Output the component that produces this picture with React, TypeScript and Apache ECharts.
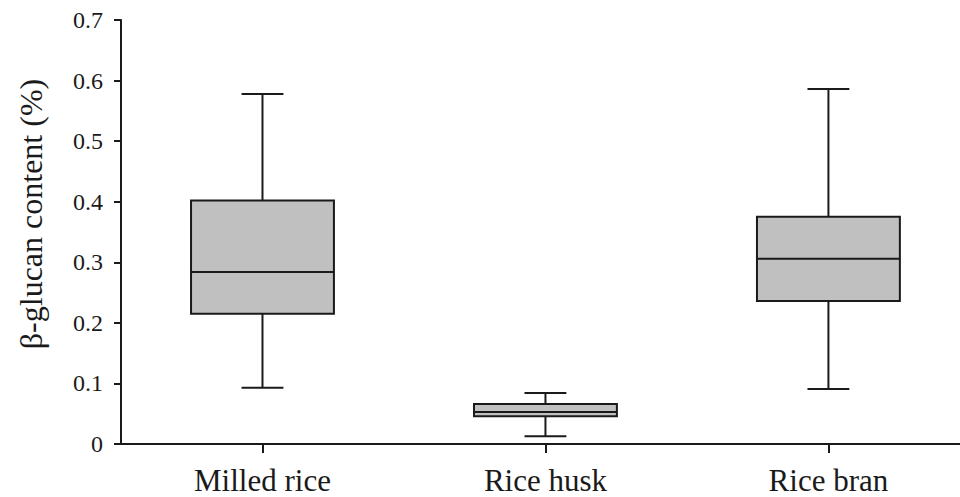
import React, { useEffect, useRef } from "react";
import * as echarts from "echarts";

const categories = ["Milled rice", "Rice husk", "Rice bran"];
const whiskerLow = [0.093, 0.013, 0.091];
const q1 = [0.215, 0.046, 0.236];
const median = [0.284, 0.053, 0.306];
const q3 = [0.402, 0.066, 0.375];
const whiskerHigh = [0.578, 0.084, 0.586];
const yTicks = [0, 0.1, 0.2, 0.3, 0.4, 0.5, 0.6, 0.7];
const catPositions = [0, 1, 2];

const FONT = "'Liberation Serif', 'Times New Roman', serif";
const INK = "#1a1a1a";

export default function App() {
  const ref = useRef<HTMLDivElement>(null);
  useEffect(() => {
    if (!ref.current) return;
    const chart = echarts.init(ref.current, null, { renderer: "svg" });
    const data = categories.map((_, i) => [catPositions[i], whiskerLow[i], q1[i], median[i], q3[i], whiskerHigh[i]]);
    chart.setOption({
      animation: false,
      backgroundColor: "#ffffff",
      grid: { left: 121, top: 20, right: 0, height: 424 },
      xAxis: {
        type: "value",
        min: -0.5,
        max: 2.465,
        axisLine: { show: true, onZero: false, lineStyle: { color: INK, width: 2 } },
        axisTick: { show: true, customValues: catPositions, length: 9, lineStyle: { color: INK, width: 2 } },
        axisLabel: {
          color: INK,
          fontFamily: FONT,
          fontSize: 31,
          margin: 21,
          customValues: catPositions,
          formatter: (v: number) => categories[Math.round(v)] ?? "",
        },
        splitLine: { show: false },
      },
      yAxis: {
        type: "value",
        min: 0,
        max: 0.7,
        interval: 0.1,
        axisLine: { show: true, onZero: false, lineStyle: { color: INK, width: 2 } },
        axisTick: { show: true, length: 7, lineStyle: { color: INK, width: 2 } },
        axisLabel: {
          color: INK,
          fontFamily: FONT,
          fontSize: 24,
          margin: 18,
          formatter: (v: number) => {
            const t = yTicks.find((x) => Math.abs(x - v) < 1e-9);
            return t === undefined ? "" : String(t);
          },
        },
        splitLine: { show: false },
      },
      graphic: [
        {
          type: "text",
          x: 31,
          y: 214,
          rotation: Math.PI / 2,
          style: {
            text: "β-glucan content (%)",
            fontFamily: FONT,
            fontSize: 32,
            fill: INK,
            align: "center",
            verticalAlign: "middle",
          },
        },
      ],
      series: [
        {
          type: "custom",
          data,
          encode: { x: 0, y: [1, 2, 3, 4, 5] },
          renderItem: (params: any, api: any) => {
            const idx = api.value(0);
            const band = api.coord([idx + 1, 0])[0] - api.coord([idx, 0])[0];
            const bw = band * 0.505;
            const cw = band * 0.148;
            const pLow = api.coord([idx, api.value(1)]);
            const pQ1 = api.coord([idx, api.value(2)]);
            const pMed = api.coord([idx, api.value(3)]);
            const pQ3 = api.coord([idx, api.value(4)]);
            const pHigh = api.coord([idx, api.value(5)]);
            const cx = pMed[0];
            const ls = { stroke: INK, lineWidth: 2 };
            return {
              type: "group",
              children: [
                { type: "line", shape: { x1: cx, y1: pQ3[1], x2: cx, y2: pHigh[1] }, style: ls },
                { type: "line", shape: { x1: cx, y1: pQ1[1], x2: cx, y2: pLow[1] }, style: ls },
                { type: "line", shape: { x1: cx - cw / 2, y1: pHigh[1], x2: cx + cw / 2, y2: pHigh[1] }, style: ls },
                { type: "line", shape: { x1: cx - cw / 2, y1: pLow[1], x2: cx + cw / 2, y2: pLow[1] }, style: ls },
                {
                  type: "rect",
                  shape: { x: cx - bw / 2, y: pQ3[1], width: bw, height: pQ1[1] - pQ3[1] },
                  style: { fill: "#c0c0c0", stroke: INK, lineWidth: 2 },
                },
                { type: "line", shape: { x1: cx - bw / 2, y1: pMed[1], x2: cx + bw / 2, y2: pMed[1] }, style: ls },
              ],
            };
          },
        },
      ],
    });
    return () => chart.dispose();
  }, []);
  return <div ref={ref} style={{ width: 960, height: 497, position: "absolute", left: 0, top: 0 }} />;
}
